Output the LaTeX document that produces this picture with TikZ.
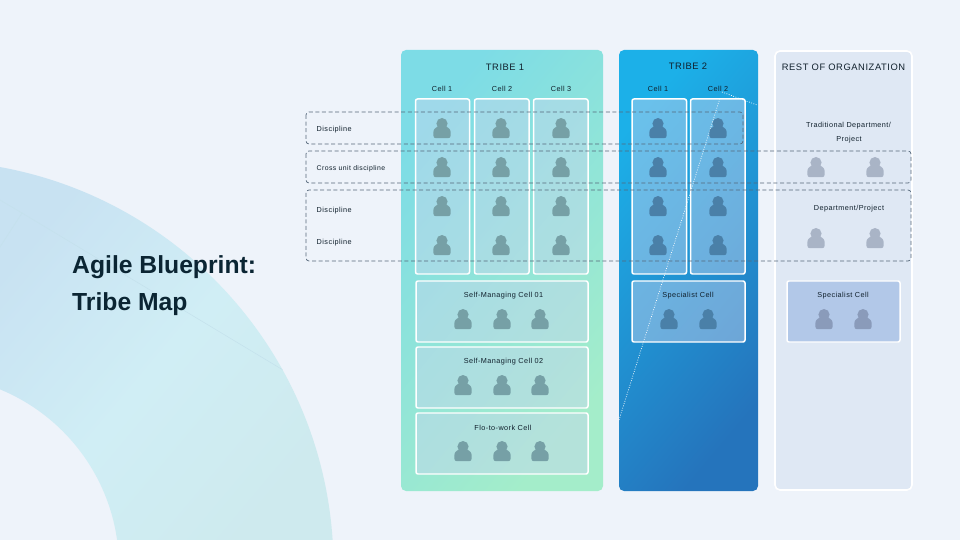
\documentclass[tikz,border=0pt]{standalone}
\usepackage{fontspec}
\setmainfont{Liberation Sans}
\newfontfamily\spaced[LetterSpace=6]{Liberation Sans}
\usetikzlibrary{calc}
\definecolor{bgc}{HTML}{EEF3FA}
\definecolor{ringa}{HTML}{C8E2F2}
\definecolor{ringb}{HTML}{D0EEF5}
\definecolor{ringc}{HTML}{CEEAEE}
\definecolor{ringl}{HTML}{C4E1EC}
\definecolor{ta}{HTML}{7DDCE6}
\definecolor{tb}{HTML}{A4EDCA}
\definecolor{tc}{HTML}{1CB0E8}
\definecolor{td}{HTML}{2574BC}
\definecolor{restc}{HTML}{DFE8F4}
\definecolor{specc}{HTML}{B2C8E8}
\definecolor{cellc}{HTML}{C9D6EF}
\definecolor{dashc}{HTML}{55677A}
\definecolor{ptone}{HTML}{76A0A6}
\definecolor{pttwo}{HTML}{4A80A8}
\definecolor{ptrest}{HTML}{A9B4C6}
\definecolor{ptspec}{HTML}{8A9BBA}
\definecolor{titlec}{HTML}{0B2533}
\definecolor{txtc}{HTML}{10202C}
\tikzset{
  x=1bp,y=-1bp,
  small/.style={font=\spaced\fontsize{7.3}{10}\selectfont,text=txtc,inner sep=0pt,yshift=-.8bp},
  head/.style={font=\spaced\fontsize{9.4}{12}\selectfont,text=txtc,inner sep=0pt},
  title/.style={font=\bfseries\fontsize{24.8}{30}\selectfont,text=titlec,inner sep=0pt,anchor=west},
  cellbox/.style={draw=white,line width=1.5pt,rounded corners=2bp,fill=cellc,fill opacity=.45},
  dashbox/.style={draw=dashc,line width=.7pt,dash pattern=on 4bp off 2.6bp,rounded corners=3bp},
  faint/.style={draw=ringl,line width=.5pt},
  dots/.style={draw=white,line width=.7pt,dash pattern=on .8bp off 1.6bp},
  person/.pic={
    \fill[pic actions] (0,-4.4) circle (5.6);
    \fill[pic actions] (-4.5,-1.5) -- (4.5,-1.5) .. controls (7,0) and (8.7,1.5) .. (8.7,5) -- (8.7,7.5) .. controls (8.7,9.3) and (7.5,10.2) .. (6,10.2) -- (-6,10.2) .. controls (-7.5,10.2) and (-8.7,9.3) .. (-8.7,7.5) -- (-8.7,5) .. controls (-8.7,1.5) and (-7,0) .. (-4.5,-1.5) -- cycle;
  }
}
\begin{document}
\begin{tikzpicture}
\useasboundingbox (0,0) rectangle (960,540);
\fill[bgc] (0,0) rectangle (960,540);
% ring
\begin{scope}[even odd rule]
  \clip (-73,567) circle (406.5) (-73,567) circle (192);
  \shade[left color=ringa,right color=ringc,middle color=ringb,shading angle=50] (0,160) rectangle (340,540);
  \draw[faint] (22,213) -- (283,370);
  \draw[faint] (0,200) -- (22,213) -- (0,247);
\end{scope}
% panels
\shade[rounded corners=5bp,left color=ta,right color=tb,shading angle=50] (401,50) rectangle (603,491);
\shade[rounded corners=5bp,left color=tc,right color=td,shading angle=50] (619,50) rectangle (758,491);
\draw[draw=white,line width=1.6pt,fill=restc,rounded corners=5bp] (775,51) rectangle (912,490);
% cells
\draw[cellbox] (415.5,99) rectangle (469.5,274);
\draw[cellbox] (474.5,99) rectangle (529,274);
\draw[cellbox] (533.5,99) rectangle (588,274);
\draw[cellbox] (632,99) rectangle (686.5,274);
\draw[cellbox] (690.5,99) rectangle (745,274);
\draw[cellbox] (416,281) rectangle (588,342);
\draw[cellbox] (416,347) rectangle (588,408);
\draw[cellbox] (416,413) rectangle (588,474);
\draw[cellbox] (632,281) rectangle (745,342);
\draw[draw=white,line width=1.5pt,rounded corners=2bp,fill=specc] (787,281) rectangle (900,342);
% dotted
\coordinate (da) at (619,420);
\coordinate (db) at (720,98);
\coordinate (dc) at (757,105);
\coordinate (dd) at (722,92);
\draw[dots] (da) -- (db);
\draw[dots] (dd) -- (dc);
% people
\foreach \x in {442,501,561,658,718}{
 \foreach \y in {128,167,206,245}{
  \ifnum\x<600 \pic[ptone] at (\x,\y) {person};\else \pic[pttwo] at (\x,\y) {person};\fi
 }}
\foreach \y in {319,385,451}{\foreach \x in {463,502,540}{\pic[ptone] at (\x,\y) {person};}}
\foreach \x in {669,708}{\pic[pttwo] at (\x,319) {person};}
\foreach \x in {824,863}{\pic[ptspec] at (\x,319) {person};}
\foreach \x in {816,875}{\foreach \y in {167,238}{\pic[ptrest] at (\x,\y) {person};}}
% dashed bands
\draw[dashbox] (306,112) rectangle (743,144);
\draw[dashbox] (306,151) rectangle (911,183);
\draw[dashbox] (306,190) rectangle (911,261);
% text
\node[head] (t1) at (505,67) {TRIBE 1};
\node[head] (t2) at (688,66.5) {TRIBE 2};
\node[head] (t3) at (843.5,67.5) {REST OF ORGANIZATION};
\node[small] (c1) at (442,88) {Cell 1};
\node[small] (c2) at (502,88) {Cell 2};
\node[small] (c3) at (561,88) {Cell 3};
\node[small] (c4) at (658,88) {Cell 1};
\node[small] (c5) at (718,88) {Cell 2};
\node[small,anchor=west] (d1) at (316.5,128.5) {Discipline};
\node[small,anchor=west,font=\spaced\fontsize{6.9}{10}\selectfont] (d2) at (316.5,167.5) {Cross unit discipline};
\node[small,anchor=west] (d3) at (316.5,209.5) {Discipline};
\node[small,anchor=west] (d4) at (316.5,241.5) {Discipline};
\node[small] (r1) at (848.5,125) {Traditional Department/};
\node[small] (r2) at (849,139) {Project};
\node[small] (r3) at (849,208) {Department/Project};
\node[small] (s1) at (503.5,295) {Self-Managing Cell 01};
\node[small] (s2) at (503.5,361) {Self-Managing Cell 02};
\node[small] (s3) at (503,427) {Flo-to-work Cell};
\node[small] (s4) at (688,295) {Specialist Cell};
\node[small] (s5) at (843,295) {Specialist Cell};
\node[title] (m1) at (72,267) {Agile Blueprint:};
\node[title] (m2) at (72,304) {Tribe Map};
\end{tikzpicture}
\end{document}
